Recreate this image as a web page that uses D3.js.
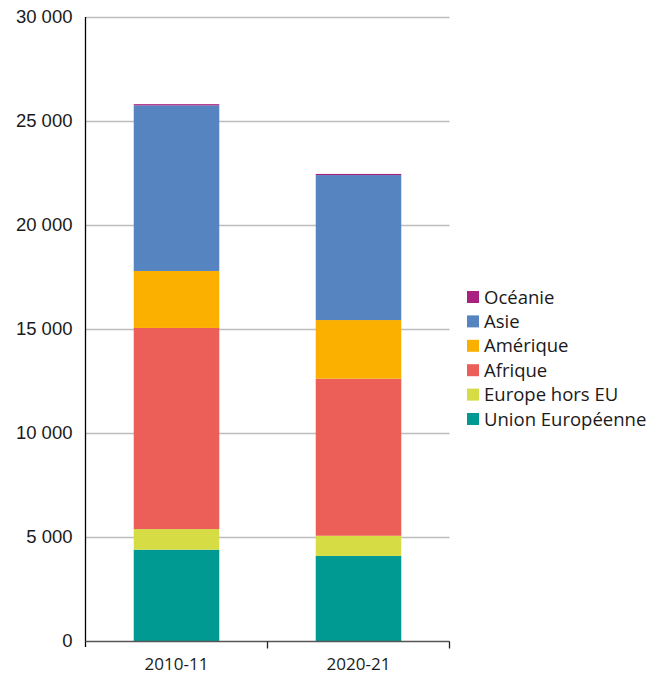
<!DOCTYPE html>
<html>
<head>
<meta charset="utf-8">
<script src="https://cdn.jsdelivr.net/npm/d3@7"></script>
<style>
  html, body { margin: 0; padding: 0; background: #fff; }
  svg { display: block; font-family: "Open Sans", "Noto Sans", sans-serif; }
</style>
</head>
<body>
<svg id="chart" width="654" height="673"></svg>
<script>
// Student numbers by region of origin, two academic years
const years = ["2010-11", "2020-21"];
const regions = ["Union Européenne", "Europe hors EU", "Afrique", "Amérique", "Asie", "Océanie"];
const unionEuropeenne = [4390, 4090];
const europeHorsEU = [990, 970];
const afrique = [9670, 7550];
const amerique = [2740, 2820];
const asie = [7960, 6970];
const oceanie = [60, 55];
const yTicks = [0, 5000, 10000, 15000, 20000, 25000, 30000];
const colors = ["#009a93", "#d6dc44", "#ec5f59", "#fbb000", "#5584c0", "#a8237f"];

const seriesValues = [unionEuropeenne, europeHorsEU, afrique, amerique, asie, oceanie];
const rows = years.map((y, i) => {
  const r = { year: y };
  regions.forEach((k, j) => { r[k] = seriesValues[j][i]; });
  return r;
});

const svg = d3.select("#chart");
const m = { left: 85.5, right: 449.5, top: 17, bottom: 641 };

const x = d3.scaleBand().domain(years).range([m.left, m.right]).paddingInner(0.53).paddingOuter(0.265);
const y = d3.scaleLinear().domain([0, 30000]).range([m.bottom, m.top]);

const fmt = v => d3.format(",")(v).replace(/,/g, " ");

// horizontal grid lines
svg.append("g").selectAll("line").data(yTicks.filter(t => t > 0)).join("line")
  .attr("x1", m.left).attr("x2", m.right)
  .attr("y1", d => Math.round(y(d)) + 0.5).attr("y2", d => Math.round(y(d)) + 0.5)
  .attr("stroke", "#bdbdbd").attr("stroke-width", 1.3);

// stacked bars
const stack = d3.stack().keys(regions)(rows);
svg.append("g").selectAll("g").data(stack).join("g")
  .attr("fill", (d, i) => colors[i])
  .selectAll("rect").data(d => d).join("rect")
  .attr("x", d => x(d.data.year))
  .attr("width", x.bandwidth())
  .attr("y", d => y(d[1]))
  .attr("height", d => y(d[0]) - y(d[1]));

// y axis
const yAxis = svg.append("g").attr("transform", `translate(${m.left},0)`)
  .call(d3.axisLeft(y).tickValues(yTicks).tickFormat(fmt).tickSize(0).tickPadding(13));
yAxis.select(".domain").attr("stroke", "#000").attr("stroke-width", 1.3)
  .attr("d", `M0,${m.top}V${m.bottom + 6}`);
yAxis.selectAll("text").attr("font-size", 18.5).attr("fill", "#1a1a1a");

// x axis with ticks between categories
const xAxis = svg.append("g").attr("transform", `translate(0,${m.bottom + 0.5})`);
xAxis.append("line").attr("x1", m.left).attr("x2", m.right)
  .attr("stroke", "#555").attr("stroke-width", 1.5);
const boundaries = [m.left, (x(years[0]) + x.bandwidth() + x(years[1])) / 2, m.right];
xAxis.selectAll(".tk").data(boundaries.slice(1)).join("line").attr("class", "tk")
  .attr("x1", d => d).attr("x2", d => d).attr("y1", 0).attr("y2", 7)
  .attr("stroke", "#222").attr("stroke-width", 1.3);
xAxis.selectAll("text").data(years).join("text")
  .attr("x", d => x(d) + x.bandwidth() / 2).attr("y", 28)
  .attr("text-anchor", "middle").attr("font-size", 17).attr("fill", "#1a1a1a")
  .text(d => d);

// legend, top entry is the top of the stack
const legend = svg.append("g").attr("transform", "translate(467,291)");
const order = regions.slice().reverse();
const li = legend.selectAll("g").data(order).join("g")
  .attr("transform", (d, i) => `translate(0,${i * 24.4})`);
li.append("rect").attr("width", 12).attr("height", 12)
  .attr("fill", d => colors[regions.indexOf(d)]);
li.append("text").attr("x", 17).attr("y", 6).attr("dy", "0.36em")
  .attr("font-size", 18.5).attr("fill", "#1a1a1a").text(d => d);
</script>
</body>
</html>
